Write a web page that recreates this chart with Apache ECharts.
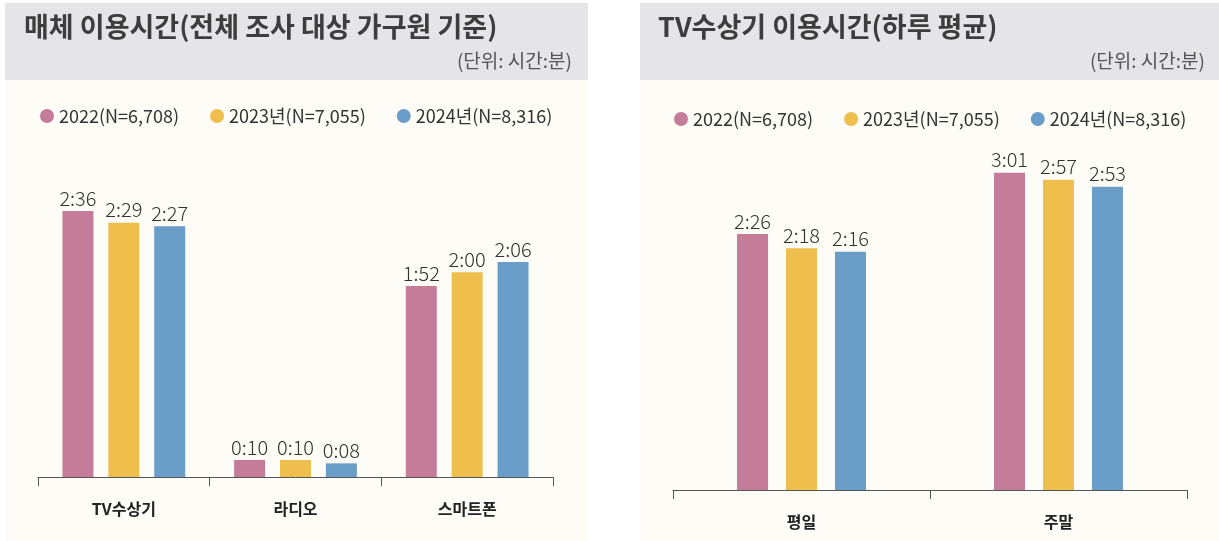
<!DOCTYPE html>
<html>
<head>
  <meta charset="UTF-8" />
  <title>매체 이용시간</title>
  <script src="https://cdn.jsdelivr.net/npm/echarts@6/dist/echarts.min.js"></script>
  <style>
    html, body { margin: 0; padding: 0; background: #ffffff; }
    #main { width: 1219px; height: 541px; }
  </style>
</head>
<body>
  <div id="main"></div>
  <script>
    // 범례 이름 (연도)
    const seriesNames = ['2022(N=6,708)', '2023년(N=7,055)', '2024년(N=8,316)'];
    const colors = ['#c47c98', '#efbf4e', '#6b9dc9'];

    // 왼쪽: 매체 이용시간 (분)
    const mediaCategories = ['TV수상기', '라디오', '스마트폰'];
    const media2022 = [156, 10, 112];
    const media2023 = [149, 10, 120];
    const media2024 = [147, 8, 126];

    // 오른쪽: TV수상기 이용시간 (분)
    const dayCategories = ['평일', '주말'];
    const day2022 = [146, 181];
    const day2023 = [138, 177];
    const day2024 = [136, 173];

    const FONT = '"Noto Sans CJK KR", "Noto Sans", sans-serif';

    function toHM(min) {
      const h = Math.floor(min / 60);
      const m = min % 60;
      return h + ':' + (m < 10 ? '0' + m : m);
    }

    const chart = echarts.init(document.getElementById('main'));

    function barSeries(name, data, color, idx, barWidth, barGap) {
      return {
        name: name,
        type: 'bar',
        xAxisIndex: idx,
        yAxisIndex: idx,
        data: data,
        barWidth: barWidth,
        barGap: barGap,
        itemStyle: { color: color },
        label: {
          show: true,
          position: 'top',
          distance: 3,
          fontFamily: FONT,
          fontSize: 20,
          fontWeight: 300,
          color: '#333',
          formatter: p => toHM(p.value)
        }
      };
    }

    const legendCommon = {
      icon: 'circle',
      itemWidth: 14,
      itemHeight: 14,
      itemGap: 31,
      textStyle: { fontFamily: FONT, fontSize: 18, color: '#333' },
      data: seriesNames
    };

    const catLabel = { margin: 24, fontFamily: FONT, fontSize: 16, fontWeight: 'bold', color: '#222' };

    const option = {
      backgroundColor: '#ffffff',
      animation: false,
      graphic: [
        // 패널 배경
        { type: 'rect', shape: { x: 5, y: 80, width: 583, height: 461 }, style: { fill: '#fdfcf7' }, z: -10 },
        { type: 'rect', shape: { x: 640, y: 80, width: 579, height: 461 }, style: { fill: '#fdfcf7' }, z: -10 },
        // 제목 영역
        { type: 'rect', shape: { x: 5, y: 3, width: 583, height: 77 }, style: { fill: '#e5e5e7' }, z: -10 },
        { type: 'rect', shape: { x: 640, y: 3, width: 579, height: 77 }, style: { fill: '#e5e5e7' }, z: -10 },
        { type: 'text', left: 24, top: 13, style: { text: '매체 이용시간(전체 조사 대상 가구원 기준)', font: 'bold 27px ' + FONT, fill: '#3d3d3d' } },
        { type: 'text', right: 1219 - 572, top: 51, style: { text: '(단위: 시간:분)', font: '19px ' + FONT, fill: '#555' } },
        { type: 'text', left: 658, top: 13, style: { text: 'TV수상기 이용시간(하루 평균)', font: 'bold 27px ' + FONT, fill: '#3d3d3d' } },
        { type: 'text', right: 14, top: 51, style: { text: '(단위: 시간:분)', font: '19px ' + FONT, fill: '#555' } }
      ],
      legend: [
        Object.assign({ left: 35, top: 102 }, legendCommon),
        Object.assign({ left: 669, top: 105 }, legendCommon)
      ],
      grid: [
        { left: 38, top: 170, width: 515, height: 307 },
        { left: 673, top: 157, width: 514, height: 333 }
      ],
      xAxis: [
        {
          type: 'category', gridIndex: 0, data: mediaCategories,
          axisLine: { lineStyle: { color: '#555', width: 1 } },
          axisTick: { show: true, length: 9, interval: 0, lineStyle: { color: '#555' } },
          axisLabel: catLabel
        },
        {
          type: 'category', gridIndex: 1, data: dayCategories,
          axisLine: { lineStyle: { color: '#555', width: 1 } },
          axisTick: { show: true, length: 9, interval: 0, lineStyle: { color: '#555' } },
          axisLabel: catLabel
        }
      ],
      yAxis: [
        { type: 'value', gridIndex: 0, min: 0, max: 180, show: false, splitLine: { show: false } },
        { type: 'value', gridIndex: 1, min: 0, max: 190, show: false, splitLine: { show: false } }
      ],
      series: [
        barSeries(seriesNames[0], media2022, colors[0], 0, 31, '48%'),
        barSeries(seriesNames[1], media2023, colors[1], 0, 31, '48%'),
        barSeries(seriesNames[2], media2024, colors[2], 0, 31, '48%'),
        barSeries(seriesNames[0], day2022, colors[0], 1, 31, '58%'),
        barSeries(seriesNames[1], day2023, colors[1], 1, 31, '58%'),
        barSeries(seriesNames[2], day2024, colors[2], 1, 31, '58%')
      ]
    };

    chart.setOption(option);
  </script>
</body>
</html>
